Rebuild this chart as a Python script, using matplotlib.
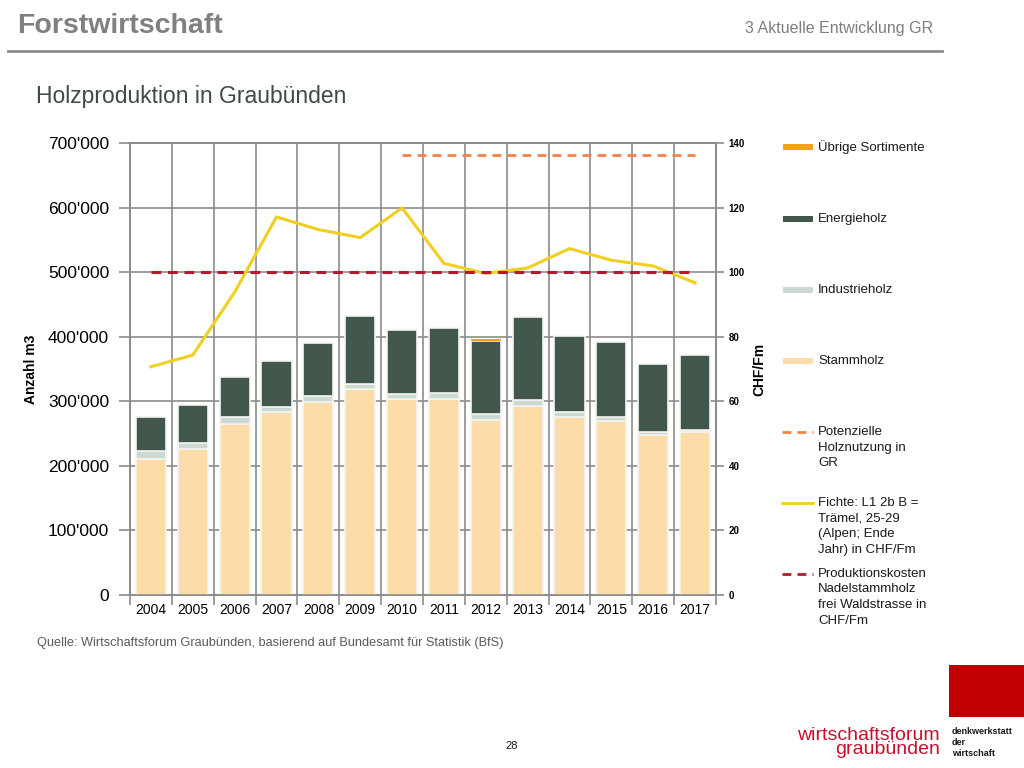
import matplotlib
matplotlib.use("Agg")
import matplotlib.pyplot as plt
from matplotlib.lines import Line2D
from matplotlib.patches import Rectangle
import numpy as np

plt.rcParams['font.family'] = ['Liberation Sans', 'DejaVu Sans']

years = ['2004', '2005', '2006', '2007', '2008', '2009', '2010', '2011',
         '2012', '2013', '2014', '2015', '2016', '2017']
stammholz = [210000, 226000, 265000, 283000, 299000, 319000, 304000, 304000,
             271000, 293000, 276000, 270000, 248000, 253000]
industrieholz = [13000, 10000, 10000, 7500, 9500, 7000, 8000, 9000,
                 9000, 9000, 7000, 5500, 4000, 2500]
energieholz = [52000, 59000, 62000, 72500, 82000, 106000, 99000, 101000,
               113000, 128000, 118000, 116000, 106000, 116500]
uebrige = [0, 0, 0, 0, 0, 0, 0, 0, 4000, 0, 0, 0, 0, 0]
fichte_preis = [70.7, 74.3, 93.8, 117.1, 113.2, 110.7, 119.9, 102.7,
                99.6, 101.3, 107.3, 103.7, 101.9, 96.7]
produktionskosten = [100] * 14
pot_years = ['2010', '2011', '2012', '2013', '2014', '2015', '2016', '2017']
potenzielle = [681000] * 8

left_ticks = [0, 100000, 200000, 300000, 400000, 500000, 600000, 700000]
left_labels = ["0", "100'000", "200'000", "300'000", "400'000", "500'000",
               "600'000", "700'000"]
right_ticks = [0, 20, 40, 60, 80, 100, 120, 140]

c_stamm = '#FCDDA9'
c_ind = '#CCD8D2'
c_energie = '#41574B'
c_uebrige = '#F2A21C'
c_fichte = '#F0CE22'
c_pot = '#F28348'
c_prod = '#B41A2C'
grid_c = '#8C8C8C'

fig = plt.figure(figsize=(10.24, 7.68), dpi=100)
ax = fig.add_axes([130/1024, 1-595/768, (716-130)/1024, (595-143)/768])

x = np.arange(len(years))
w = 0.72
b1 = np.array(stammholz)
b2 = b1 + np.array(industrieholz)
b3 = b2 + np.array(energieholz)
ax.bar(x, stammholz, w, color=c_stamm, edgecolor='#F4F4F0', linewidth=1.2, zorder=3)
ax.bar(x, industrieholz, w, bottom=b1, color=c_ind, edgecolor='#F4F4F0', linewidth=1.2, zorder=3)
ax.bar(x, energieholz, w, bottom=b2, color=c_energie, edgecolor='#F4F4F0', linewidth=1.2, zorder=3)
ax.bar(x, uebrige, w, bottom=b3, color=c_uebrige, linewidth=0, zorder=3)

px = [years.index(y) for y in pot_years]
ax.plot(px, potenzielle, color=c_pot, lw=2, dashes=(3.2, 2.2), zorder=4)

ax.set_xlim(-0.5, len(years) - 0.5)
ax.set_ylim(0, 700000)
ax.set_yticks(left_ticks)
ax.set_yticklabels(left_labels, fontsize=12.5)
ax.set_xticks(x)
ax.set_xticklabels(years, fontsize=10)
ax.set_xticks(np.arange(-0.5, len(years), 1.0), minor=True)
ax.tick_params(axis='x', which='major', length=0, pad=6)
ax.tick_params(axis='x', which='minor', length=7, color=grid_c, width=1.2)
ax.tick_params(axis='y', length=8, color=grid_c, width=1.2, pad=7)
ax.grid(axis='y', color=grid_c, lw=1.2, zorder=1)
ax.grid(axis='x', which='minor', color=grid_c, lw=1.2, zorder=1)
for s in ax.spines.values():
    s.set_color(grid_c)
    s.set_linewidth(1.2)
ax.set_axisbelow(True)
ax.set_ylabel('Anzahl m3', fontsize=10, fontweight='bold', labelpad=4)
ax.yaxis.set_label_coords(-0.157, 0.5)

ax2 = ax.twinx()
ax2.plot(x, fichte_preis, color=c_fichte, lw=2.2, zorder=5)
ax2.plot(x, produktionskosten, color=c_prod, lw=2.2, dashes=(3.2, 2.2), zorder=5)
ax2.set_ylim(0, 140)
ax2.set_yticks(right_ticks)
ax2.set_yticklabels([str(t) for t in right_ticks], fontsize=7, fontweight='bold')
ax2.tick_params(axis='y', length=6, color=grid_c, width=1.2, pad=3)
for s in ax2.spines.values():
    s.set_color(grid_c)
    s.set_linewidth(1.2)
ax2.set_ylabel('CHF/Fm', fontsize=10, fontweight='bold')
ax2.yaxis.set_label_coords(1.062, 0.5)

# Legend (custom, figure-level)
def fy(py):
    return 1 - py / 768

def fx(px_):
    return px_ / 1024

leg = [
    ('patch', c_uebrige, ['Übrige Sortimente'], 147),
    ('patch', c_energie, ['Energieholz'], 219),
    ('patch', c_ind, ['Industrieholz'], 290),
    ('patch', c_stamm, ['Stammholz'], 361),
    ('dash', c_pot, ['Potenzielle', 'Holznutzung in', 'GR'], 432),
    ('line', c_fichte, ['Fichte: L1 2b B =', 'Trämel, 25-29', '(Alpen; Ende', 'Jahr) in CHF/Fm'], 503),
    ('dash', c_prod, ['Produktionskosten', 'Nadelstammholz', 'frei Waldstrasse in', 'CHF/Fm'], 574),
]
for kind, col, lines, y0 in leg:
    if kind == 'patch':
        fig.add_artist(Rectangle((fx(783), fy(y0 + 3)), fx(30), 6/768,
                                 transform=fig.transFigure, color=col, lw=0))
    elif kind == 'dash':
        fig.add_artist(Line2D([fx(782), fx(813)], [fy(y0), fy(y0)], color=col,
                              lw=2, dashes=(3.2, 2.2), transform=fig.transFigure))
    else:
        fig.add_artist(Line2D([fx(782), fx(813)], [fy(y0), fy(y0)], color=col,
                              lw=2, transform=fig.transFigure))
    for i, t in enumerate(lines):
        fig.text(fx(818), fy(y0 + i * 15.5), t, fontsize=9.5, va='center', ha='left',
                 color='#1a1a1a')

# Header
fig.text(fx(17), fy(26), 'Forstwirtschaft', fontsize=20.5, fontweight='bold',
         color='#808080', va='center', ha='left')
fig.text(fx(933), fy(28), '3 Aktuelle Entwicklung GR', fontsize=11.5,
         color='#7f7f7f', va='center', ha='right')
fig.add_artist(Line2D([fx(8), fx(942)], [fy(50.5), fy(50.5)], color='#8c8c8c',
                      lw=2, transform=fig.transFigure))
fig.text(fx(36), fy(97), 'Holzproduktion in Graubünden', fontsize=16.5,
         color='#3d4a45', va='center', ha='left')

fig.text(fx(37), fy(643), 'Quelle: Wirtschaftsforum Graubünden, basierend auf Bundesamt für Statistik (BfS)',
         fontsize=9.2, color='#595959', va='center', ha='left')
fig.text(fx(512), fy(746), '28', fontsize=8, color='#1a1a1a', va='center', ha='center')

# Logo
fig.add_artist(Rectangle((fx(949), fy(717)), fx(75), 52/768,
                         transform=fig.transFigure, color='#C00000', lw=0))
fig.text(fx(940), fy(735), 'wirtschaftsforum', fontsize=14, color='#C8102E',
         va='center', ha='right')
fig.text(fx(940), fy(750), 'graubünden', fontsize=14, color='#C8102E',
         va='center', ha='right')
for i, t in enumerate(['denkwerkstatt', 'der', 'wirtschaft']):
    fig.text(fx(952), fy(732 + i * 10.5), t, fontsize=6.5, fontweight='bold',
             color='#1a1a1a', va='center', ha='left')

fig.savefig('out.png', dpi=100, facecolor='white')
